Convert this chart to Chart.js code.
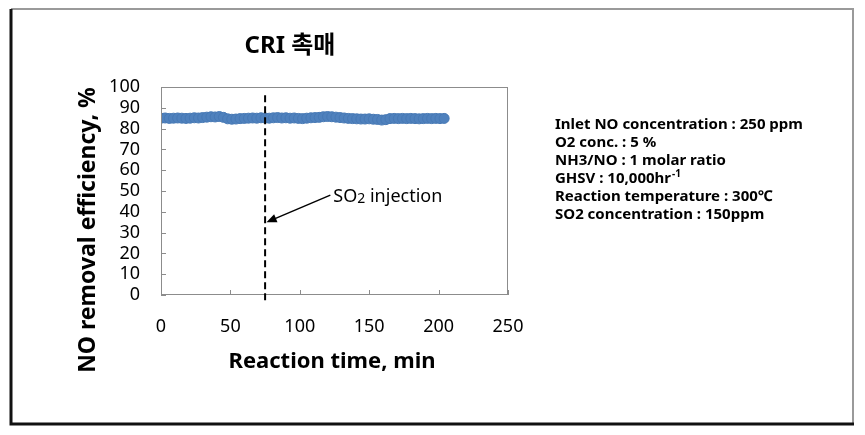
<!DOCTYPE html>
<html lang="ko">
<head>
<meta charset="UTF-8">
<title>CRI 촉매 - NO removal efficiency</title>
<style>
  html, body { margin: 0; padding: 0; background: #fff; }
  #wrap { position: relative; width: 865px; height: 435px; }
</style>
</head>
<body>
<div id="wrap"><canvas id="myChart" width="865" height="435"></canvas></div>

<script src="https://cdn.jsdelivr.net/npm/chart.js@4/dist/chart.umd.min.js"></script>
<script>
// reaction time (min) and NO removal efficiency (%)
var times = [0, 3, 6, 9, 12, 15, 18, 21, 24, 27, 30,
    33, 36, 39, 42, 45,
    48, 51, 54, 57,
    60, 63, 66, 69, 72, 75, 78, 81, 84, 87, 90, 93, 96, 99, 102, 105, 108, 111, 114,
    117, 120, 123, 126, 129,
    132, 135, 138, 141, 144, 147, 150, 153, 156,
    159, 162,
    165, 168, 171, 174, 177, 180, 183, 186, 189, 192, 195, 198, 201, 204];
var efficiency = [85.0, 85.1, 84.9, 85.0, 85.1, 85.0, 84.9, 85.0, 85.2, 85.1, 85.3,
    85.5, 85.7, 85.6, 85.8, 85.4,
    84.7, 84.5, 84.6, 84.8,
    84.9, 85.0, 85.1, 85.0, 85.2, 85.1, 85.0, 85.2, 85.3, 85.1, 85.2, 85.0, 85.1, 84.9, 84.8, 85.0, 85.2, 85.3, 85.4,
    85.7, 85.8, 85.7, 85.5, 85.3,
    85.1, 84.9, 84.8, 84.7, 84.6, 84.6, 84.7, 84.5, 84.4,
    84.1, 84.3,
    84.8, 84.9, 84.8, 84.9, 84.8, 84.9, 84.8, 84.7, 84.8, 84.9, 84.8, 84.9, 84.8, 84.9];

var xTicks = [0, 50, 100, 150, 200, 250];
var yTicks = [0, 10, 20, 30, 40, 50, 60, 70, 80, 90, 100];

var injectionTime = 75;
var injectionLine = [96, -4];          // y range of the dashed marker line (%)
var arrowFrom = [122, 48];             // label end of arrow (min, %)
var arrowTo = [76, 35];

var chartTitle = 'CRI 촉매';
var xTitle = 'Reaction time, min';
var yTitle = 'NO removal efficiency, %';
var conditions = [
    'Inlet NO concentration : 250 ppm',
    'O2 conc. : 5 %',
    'NH3/NO : 1 molar ratio',
    'GHSV : 10,000hr',
    'Reaction temperature : 300\u2103',
    'SO2 concentration : 150ppm'
];

var FONT = "'Noto Sans', 'Noto Sans CJK KR', sans-serif";

var points = [];
for (var i = 0; i < times.length; i++) {
    points.push({ x: times[i], y: efficiency[i] });
}

// frame, plot border, inner ticks, titles and notes
var decor = {
    id: 'decor',
    beforeDraw: function (chart) {
        var c = chart.ctx;
        c.save();
        c.fillStyle = '#fff';
        c.fillRect(0, 0, chart.width, chart.height);
        c.strokeStyle = '#9a9a9a';
        c.lineWidth = 2;
        c.beginPath();
        c.moveTo(11, 9); c.lineTo(853, 9); c.lineTo(853, 423);
        c.stroke();
        c.strokeStyle = '#111';
        c.lineWidth = 3;
        c.beginPath();
        c.moveTo(11, 9); c.lineTo(11, 424); c.lineTo(854, 424);
        c.stroke();
        c.restore();
    },
    afterDraw: function (chart) {
        var c = chart.ctx;
        var a = chart.chartArea;
        var xs = chart.scales.x, ys = chart.scales.y;
        c.save();

        // plot border
        c.strokeStyle = '#8c8c8c';
        c.lineWidth = 1;
        c.strokeRect(a.left + 0.5, a.top + 0.5, a.right - a.left - 1, a.bottom - a.top - 1);

        // inner tick marks
        c.beginPath();
        yTicks.forEach(function (v) {
            var py = Math.round(ys.getPixelForValue(v)) + 0.5;
            c.moveTo(a.left, py); c.lineTo(a.left + 5, py);
        });
        xTicks.forEach(function (v) {
            var px = Math.round(xs.getPixelForValue(v)) + 0.5;
            c.moveTo(px, a.bottom); c.lineTo(px, a.bottom - 5);
        });
        c.stroke();

        // SO2 injection dashed line
        var lx = xs.getPixelForValue(injectionTime);
        c.strokeStyle = '#000';
        c.lineWidth = 2;
        c.setLineDash([7, 4]);
        c.beginPath();
        c.moveTo(lx, ys.getPixelForValue(injectionLine[0]));
        c.lineTo(lx, ys.getPixelForValue(injectionLine[1]));
        c.stroke();
        c.setLineDash([]);

        // arrow
        var x1 = xs.getPixelForValue(arrowFrom[0]), y1 = ys.getPixelForValue(arrowFrom[1]);
        var x2 = xs.getPixelForValue(arrowTo[0]), y2 = ys.getPixelForValue(arrowTo[1]);
        var ang = Math.atan2(y2 - y1, x2 - x1);
        c.lineWidth = 1.5;
        c.beginPath();
        c.moveTo(x1, y1);
        c.lineTo(x2 - 8 * Math.cos(ang), y2 - 8 * Math.sin(ang));
        c.stroke();
        c.fillStyle = '#000';
        c.beginPath();
        c.moveTo(x2, y2);
        c.lineTo(x2 - 11 * Math.cos(ang - 0.4), y2 - 11 * Math.sin(ang - 0.4));
        c.lineTo(x2 - 11 * Math.cos(ang + 0.4), y2 - 11 * Math.sin(ang + 0.4));
        c.closePath();
        c.fill();

        // annotation text "SO2 injection"
        c.fillStyle = '#000';
        c.textBaseline = 'alphabetic';
        c.textAlign = 'left';
        var tx = x1 + 3, ty = y1 + 7;
        c.font = '18px ' + FONT;
        c.fillText('SO', tx, ty);
        var w = c.measureText('SO').width;
        c.font = '14px ' + FONT;
        c.fillText('2', tx + w, ty + 1);
        var w2 = c.measureText('2').width;
        c.font = '18px ' + FONT;
        c.fillText(' injection', tx + w + w2, ty);

        // chart title
        c.font = 'bold 24px ' + FONT;
        c.textAlign = 'center';
        c.textBaseline = 'middle';
        c.fillText(chartTitle, 290, 46);

        // axis titles
        c.font = 'bold 22px ' + FONT;
        c.fillText(xTitle, 332, 362);
        c.save();
        c.translate(88, 230);
        c.rotate(-Math.PI / 2);
        c.font = 'bold 23px ' + FONT;
        c.fillText(yTitle, 0, 0);
        c.restore();

        // experimental conditions
        c.font = 'bold 15px ' + FONT;
        c.textAlign = 'left';
        c.textBaseline = 'middle';
        conditions.forEach(function (line, i) {
            var y = 125 + i * 18;
            c.fillText(line, 555, y);
            if (line.indexOf('GHSV') === 0) {
                var lw = c.measureText(line).width;
                c.font = 'bold 10px ' + FONT;
                c.fillText('-1', 555 + lw + 1, y - 5);
                c.font = 'bold 15px ' + FONT;
            }
        });
        c.restore();
    }
};

var ctx = document.getElementById('myChart').getContext('2d');
new Chart(ctx, {
    type: 'scatter',
    data: {
        datasets: [{
            data: points,
            backgroundColor: '#4F81BD',
            borderColor: '#4779B5',
            borderWidth: 1,
            pointRadius: 5,
            pointHoverRadius: 5,
            showLine: false
        }]
    },
    options: {
        responsive: false,
        animation: false,
        layout: { padding: { left: 0, right: 357, top: 87, bottom: 95 } },
        plugins: {
            legend: { display: false },
            tooltip: { enabled: false }
        },
        scales: {
            x: {
                type: 'linear',
                min: 0, max: 250,
                grid: { display: false, drawTicks: false },
                border: { display: false },
                ticks: {
                    stepSize: 50, padding: 21, color: '#000', maxRotation: 0, autoSkip: false,
                    font: { family: FONT, size: 18 }
                },
                afterFit: function (s) { s.height = 45; }
            },
            y: {
                min: 0, max: 100,
                grid: { display: false, drawTicks: false },
                border: { display: false },
                ticks: {
                    stepSize: 10, padding: 21, color: '#000', autoSkip: false,
                    font: { family: FONT, size: 18 }
                },
                afterFit: function (s) { s.width = 161; }
            }
        }
    },
    plugins: [decor]
});
</script>
</body>
</html>
